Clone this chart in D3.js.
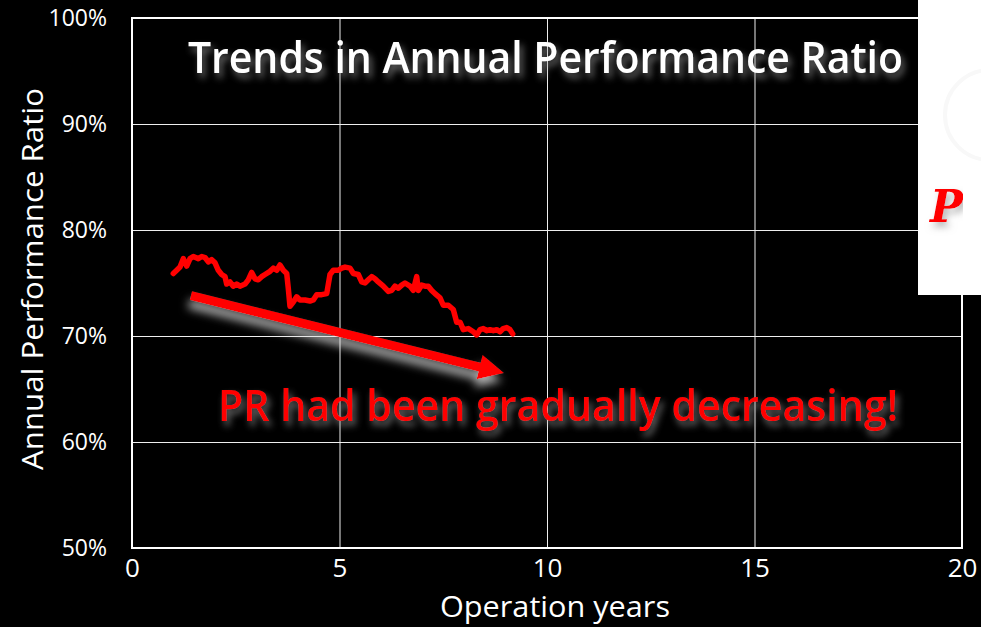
<!DOCTYPE html>
<html>
<head>
<meta charset="utf-8">
<script src="https://cdn.jsdelivr.net/npm/d3@7"></script>
<style>
  html, body { margin: 0; padding: 0; background: #000; }
  svg { display: block; }
  text { font-family: "Open Sans", "DejaVu Sans", sans-serif; }
</style>
</head>
<body>
<svg id="chart" width="981" height="627"></svg>
<script>
// Operation years and annual performance ratio (%) of the plant
const years = [
  0.995, 1.077, 1.157, 1.236, 1.318, 1.398, 1.477, 1.598, 1.680, 1.759,
  1.839, 1.920, 2.000, 2.080, 2.161, 2.241, 2.282, 2.361, 2.441, 2.523,
  2.602, 2.723, 2.802, 2.884, 2.964, 3.043, 3.125, 3.205, 3.325, 3.405,
  3.487, 3.566, 3.646, 3.728, 3.766, 3.807, 3.887, 3.969, 4.048, 4.169,
  4.289, 4.369, 4.451, 4.571, 4.692, 4.771, 4.851, 4.971, 5.053, 5.133,
  5.253, 5.333, 5.453, 5.535, 5.614, 5.694, 5.776, 5.855, 5.935, 6.055,
  6.176, 6.258, 6.337, 6.417, 6.499, 6.578, 6.699, 6.778, 6.860, 6.899,
  6.981, 7.060, 7.140, 7.222, 7.301, 7.422, 7.501, 7.622, 7.742, 7.824,
  7.904, 7.983, 8.104, 8.224, 8.306, 8.386, 8.465, 8.547, 8.627, 8.706,
  8.788, 8.867, 8.947, 9.029, 9.108, 9.173
];
const performanceRatio = [
  75.9, 76.2, 76.5, 77.3, 76.6, 77.3, 77.5, 77.3, 77.5, 77.4,
  77.0, 77.2, 76.9, 76.2, 75.8, 75.6, 74.9, 75.1, 74.7, 74.9,
  74.7, 74.9, 75.3, 76.0, 75.4, 75.3, 75.6, 75.8, 76.1, 76.4,
  76.2, 76.7, 76.2, 75.9, 74.5, 72.8, 73.2, 73.7, 73.4, 73.4,
  73.3, 73.4, 73.9, 73.9, 74.0, 75.8, 76.2, 76.2, 76.4, 76.5,
  76.4, 75.9, 75.8, 75.1, 75.0, 75.3, 75.6, 75.4, 75.1, 74.7,
  74.2, 74.3, 74.7, 74.5, 74.8, 75.0, 74.7, 74.3, 75.6, 74.3,
  74.8, 74.7, 74.7, 74.3, 74.0, 73.6, 72.9, 72.9, 72.5, 71.3,
  71.3, 70.6, 70.7, 70.4, 70.1, 70.6, 70.7, 70.5, 70.6, 70.5,
  70.6, 70.4, 70.7, 70.8, 70.6, 70.2
];

// Axis ticks
const xTicks = [0, 5, 10, 15, 20];
const yTicks = [50, 60, 70, 80, 90, 100];

// Trend arrow (operation year, PR %) from tail to tip
const trendFrom = [1.42, 73.8];
const trendTo = [8.96, 66.5];

const titleText = "Trends in Annual Performance Ratio";
const noteText = "PR had been gradually decreasing!";
const xTitle = "Operation years";
const yTitle = "Annual Performance Ratio";

const svg = d3.select("#chart");
const W = 981, H = 627;
const plotLeft = 132, plotRight = 962, plotTop = 18, plotBottom = 548;

const x = d3.scaleLinear().domain([0, 20]).range([plotLeft, plotRight]);
const y = d3.scaleLinear().domain([50, 100]).range([plotBottom, plotTop]);

// Soft grey drop shadows
const defs = svg.append("defs");
function shadow(id, dx, dy, sd, col, op) {
  const f = defs.append("filter").attr("id", id)
    .attr("x", "-20%").attr("y", "-40%").attr("width", "140%").attr("height", "200%");
  f.append("feGaussianBlur").attr("in", "SourceAlpha").attr("stdDeviation", sd).attr("result", "b");
  f.append("feOffset").attr("in", "b").attr("dx", dx).attr("dy", dy).attr("result", "o");
  f.append("feFlood").attr("flood-color", col).attr("flood-opacity", op);
  f.append("feComposite").attr("in2", "o").attr("operator", "in").attr("result", "s");
  const m = f.append("feMerge");
  m.append("feMergeNode").attr("in", "s");
  m.append("feMergeNode").attr("in", "SourceGraphic");
}
shadow("txtShadow", 3, 5, 3.5, "#999999", 0.7);
shadow("arrowShadow", -2, 8, 5, "#dddddd", 0.8);
defs.append("clipPath").attr("id", "logoClip")
  .append("rect").attr("x", 918).attr("y", 0).attr("width", 45).attr("height", 295);

svg.append("rect").attr("width", W).attr("height", H).attr("fill", "#000");

// Gridlines
svg.append("g")
  .attr("transform", `translate(${plotLeft},0)`)
  .call(d3.axisLeft(y).tickValues([60, 70, 80, 90]).tickSize(-(plotRight - plotLeft)).tickFormat(""))
  .call(g => g.select(".domain").remove())
  .call(g => g.selectAll("line").attr("stroke", "#eeeeee").attr("stroke-width", 1));
svg.append("g")
  .attr("transform", `translate(0,${plotBottom})`)
  .call(d3.axisBottom(x).tickValues([5, 10, 15]).tickSize(-(plotBottom - plotTop)).tickFormat(""))
  .call(g => g.select(".domain").remove())
  .call(g => g.selectAll("line").attr("stroke", "#eeeeee").attr("stroke-width", 1));

// Plot frame
svg.append("rect")
  .attr("x", plotLeft).attr("y", plotTop)
  .attr("width", plotRight - plotLeft).attr("height", plotBottom - plotTop)
  .attr("fill", "none").attr("stroke", "#fff").attr("stroke-width", 2);

// Axes labels
svg.append("g")
  .attr("transform", `translate(${plotLeft},0)`)
  .call(d3.axisLeft(y).tickValues(yTicks).tickSize(0).tickPadding(25).tickFormat(d => d + "%"))
  .call(g => g.select(".domain").remove())
  .call(g => g.selectAll("text").attr("fill", "#fff").style("font-size", "23px")
    .style("font-family", "'Open Sans', sans-serif"));
svg.append("g")
  .attr("transform", `translate(0,${plotBottom})`)
  .call(d3.axisBottom(x).tickValues(xTicks).tickSize(0).tickPadding(11).tickFormat(d3.format("d")))
  .call(g => g.select(".domain").remove())
  .call(g => g.selectAll("text").attr("fill", "#fff").style("font-size", "26px")
    .style("font-family", "'Open Sans', sans-serif"));

svg.append("text")
  .attr("x", 555).attr("y", 617)
  .attr("text-anchor", "middle").attr("fill", "#fff")
  .style("font-size", "30px")
  .attr("textLength", 230).attr("lengthAdjust", "spacingAndGlyphs")
  .text(xTitle);
svg.append("text")
  .attr("transform", "translate(43,279) rotate(-90)")
  .attr("text-anchor", "middle").attr("fill", "#fff")
  .style("font-size", "30px")
  .attr("textLength", 382).attr("lengthAdjust", "spacingAndGlyphs")
  .text(yTitle);

// PR series
const line = d3.line().x((d, i) => x(years[i])).y(d => y(d));
svg.append("path")
  .datum(performanceRatio)
  .attr("d", line)
  .attr("fill", "none").attr("stroke", "#ff0000")
  .attr("stroke-width", 5.5).attr("stroke-linejoin", "round").attr("stroke-linecap", "round");

// Trend arrow
(function () {
  const x0 = x(trendFrom[0]), y0 = y(trendFrom[1]);
  const x1 = x(trendTo[0]), y1 = y(trendTo[1]);
  const ang = Math.atan2(y1 - y0, x1 - x0);
  const ux = Math.cos(ang), uy = Math.sin(ang), nx = -uy, ny = ux;
  const shaft = 4.5, head = 25, half = 12.5;
  const bx = x1 - ux * head, by = y1 - uy * head;
  const pts = [
    [x0 + nx * shaft, y0 + ny * shaft],
    [bx + nx * shaft, by + ny * shaft],
    [bx + nx * half, by + ny * half],
    [x1, y1],
    [bx - nx * half, by - ny * half],
    [bx - nx * shaft, by - ny * shaft],
    [x0 - nx * shaft, y0 - ny * shaft]
  ];
  svg.append("polygon")
    .attr("points", pts.map(p => p.join(",")).join(" "))
    .attr("fill", "#ff0000")
    .attr("filter", "url(#arrowShadow)");
})();

// Title and note
svg.append("text")
  .attr("x", 188).attr("y", 73)
  .attr("fill", "#fff").style("font-size", "44px").style("font-weight", "600")
  .attr("textLength", 715).attr("lengthAdjust", "spacingAndGlyphs")
  .attr("filter", "url(#txtShadow)")
  .text(titleText);
svg.append("text")
  .attr("x", 218).attr("y", 421)
  .attr("fill", "#ff0000").style("font-size", "44px").style("font-weight", "600")
  .attr("textLength", 680).attr("lengthAdjust", "spacingAndGlyphs")
  .attr("filter", "url(#txtShadow)")
  .text(noteText);

// Logo panel at top right
const logo = svg.append("g");
logo.append("rect").attr("x", 918).attr("y", 0).attr("width", W - 918).attr("height", 295).attr("fill", "#fff");
logo.append("circle").attr("cx", 990).attr("cy", 115).attr("r", 45)
  .attr("fill", "none").attr("stroke", "#f8f8f8").attr("stroke-width", 4);
logo.append("text")
  .attr("x", 930).attr("y", 222)
  .attr("clip-path", "url(#logoClip)")
  .attr("fill", "#ff0000")
  .style("font-family", "'DejaVu Serif', serif").style("font-style", "italic").style("font-weight", "bold")
  .style("font-size", "44px")
  .attr("filter", "url(#txtShadow)")
  .text("P");
</script>
</body>
</html>
